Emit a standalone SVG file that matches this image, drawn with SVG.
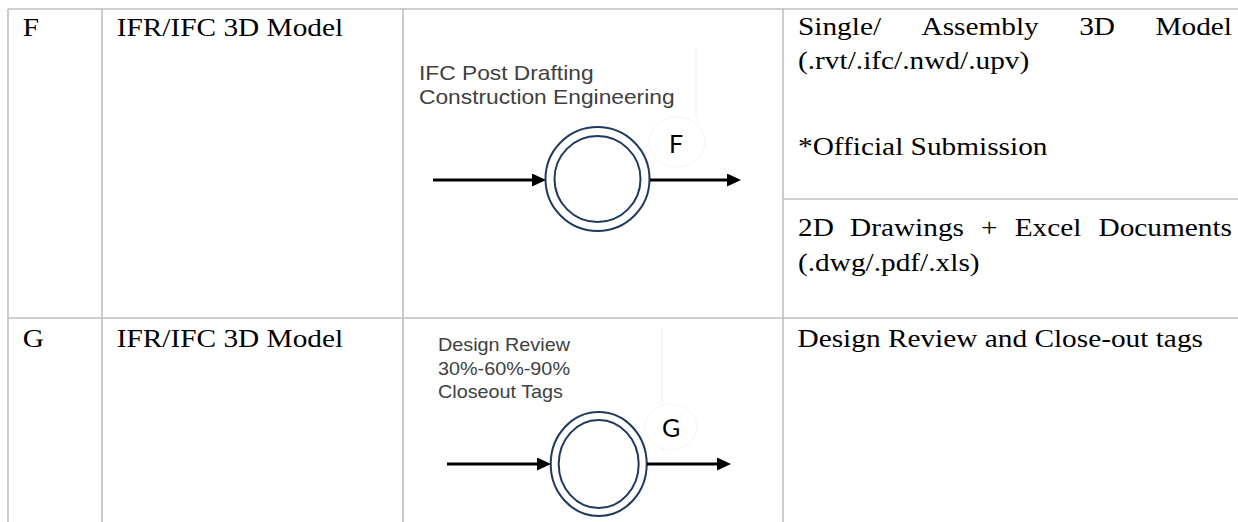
<svg xmlns="http://www.w3.org/2000/svg" width="1238" height="522" viewBox="0 0 1238 522">
  <style>
    .grid { stroke: #bfbfbf; stroke-width: 1.6; fill: none; }
    .serif { font-family: "Liberation Serif", "Times New Roman", serif; font-size: 25.5px; fill: #000; }
    .cap { font-family: "Liberation Sans", Arial, sans-serif; fill: #404040; }
    .tag { font-family: Lato, "Liberation Sans", sans-serif; font-size: 25px; fill: #000; }
    .ring { fill: none; stroke: #1f3a5f; stroke-width: 2; }
    .flow { stroke: #000; stroke-width: 3.2; fill: none; marker-end: url(#head); }
    .ghost-line { fill: none; stroke: #ededed; stroke-width: 1; }
    .ghost { fill: none; stroke: #f4f4f4; stroke-width: 1; }
  </style>
  <defs>
    <marker id="head" markerUnits="userSpaceOnUse" markerWidth="14" markerHeight="13" viewBox="0 0 14 13" refX="4" refY="6.5" orient="auto">
      <path d="M0,0 L14,6.5 L0,13 z" fill="#000"/>
    </marker>
  </defs>

  <rect width="1238" height="522" fill="#fff"/>

  <!-- table rules -->
  <g id="table" class="grid">
    <line x1="8" y1="9" x2="1238" y2="9"/>
    <line x1="8" y1="318" x2="1238" y2="318"/>
    <line x1="783" y1="199" x2="1238" y2="199"/>
    <line x1="8" y1="9" x2="8" y2="522"/>
    <line x1="102" y1="9" x2="102" y2="522"/>
    <line x1="403" y1="9" x2="403" y2="522"/>
    <line x1="783" y1="9" x2="783" y2="522"/>
  </g>

  <!-- row F -->
  <g id="row-f">
    <text class="serif" transform="translate(22.7,36) scale(1.15,1)">F</text>
    <text class="serif" transform="translate(116.7,36) scale(1.15,1)">IFR/IFC 3D Model</text>
    <text class="serif" transform="translate(798,35) scale(1.15,1)">Single/</text>
    <text class="serif" transform="translate(921.5,35) scale(1.15,1)">Assembly</text>
    <text class="serif" transform="translate(1079.2,35) scale(1.15,1)">3D</text>
    <text class="serif" text-anchor="end" transform="translate(1232,35) scale(1.15,1)">Model</text>
    <text class="serif" transform="translate(798,69) scale(1.15,1)">(.rvt/.ifc/.nwd/.upv)</text>
    <text class="serif" transform="translate(798,155) scale(1.15,1)">*Official Submission</text>
    <text class="serif" transform="translate(798,236) scale(1.15,1)">2D</text>
    <text class="serif" transform="translate(850,236) scale(1.15,1)">Drawings</text>
    <text class="serif" transform="translate(981,236) scale(1.15,1)">+</text>
    <text class="serif" transform="translate(1014.7,236) scale(1.15,1)">Excel</text>
    <text class="serif" text-anchor="end" transform="translate(1232,236) scale(1.15,1)">Documents</text>
    <text class="serif" transform="translate(798,271) scale(1.15,1)">(.dwg/.pdf/.xls)</text>
  </g>

  <!-- row G -->
  <g id="row-g">
    <text class="serif" transform="translate(22.7,347) scale(1.15,1)">G</text>
    <text class="serif" transform="translate(116.7,347) scale(1.15,1)">IFR/IFC 3D Model</text>
    <text class="serif" transform="translate(797.5,347) scale(1.15,1)">Design Review and Close-out tags</text>
  </g>

  <!-- stage F: post drafting -->
  <g id="stage-f">
    <line class="ghost-line" x1="696" y1="50" x2="696" y2="117"/>
    <ellipse class="ghost" cx="677" cy="142" rx="28" ry="25"/>
    <text class="cap" font-size="20.7" transform="translate(419,80) scale(1.1,1)">IFC Post Drafting</text>
    <text class="cap" font-size="20.7" transform="translate(419,104) scale(1.1,1)">Construction Engineering</text>
    <circle class="ring" cx="597.5" cy="179" r="52"/>
    <circle class="ring" cx="597.5" cy="179" r="43"/>
    <text class="tag" x="669" y="153">F</text>
  </g>

  <!-- stage G: design review -->
  <g id="stage-g">
    <line class="ghost-line" x1="662" y1="327" x2="662" y2="403"/>
    <ellipse class="ghost" cx="671" cy="427" rx="26" ry="23"/>
    <text class="cap" font-size="18" transform="translate(438,351) scale(1.1,1)">Design Review</text>
    <text class="cap" font-size="18" transform="translate(438,375) scale(1.1,1)">30%-60%-90%</text>
    <text class="cap" font-size="18" transform="translate(438,398) scale(1.1,1)">Closeout Tags</text>
    <ellipse class="ring" cx="598.7" cy="464" rx="48" ry="52"/>
    <ellipse class="ring" cx="598.7" cy="464" rx="40" ry="44"/>
    <text class="tag" x="662" y="437">G</text>
  </g>

  <!-- connectors -->
  <g id="connectors">
    <line class="flow" x1="433" y1="180" x2="536" y2="180"/>
    <line class="flow" x1="650" y1="180" x2="731" y2="180"/>
    <line class="flow" x1="447" y1="464" x2="541" y2="464"/>
    <line class="flow" x1="647" y1="464" x2="721" y2="464"/>
  </g>
</svg>
